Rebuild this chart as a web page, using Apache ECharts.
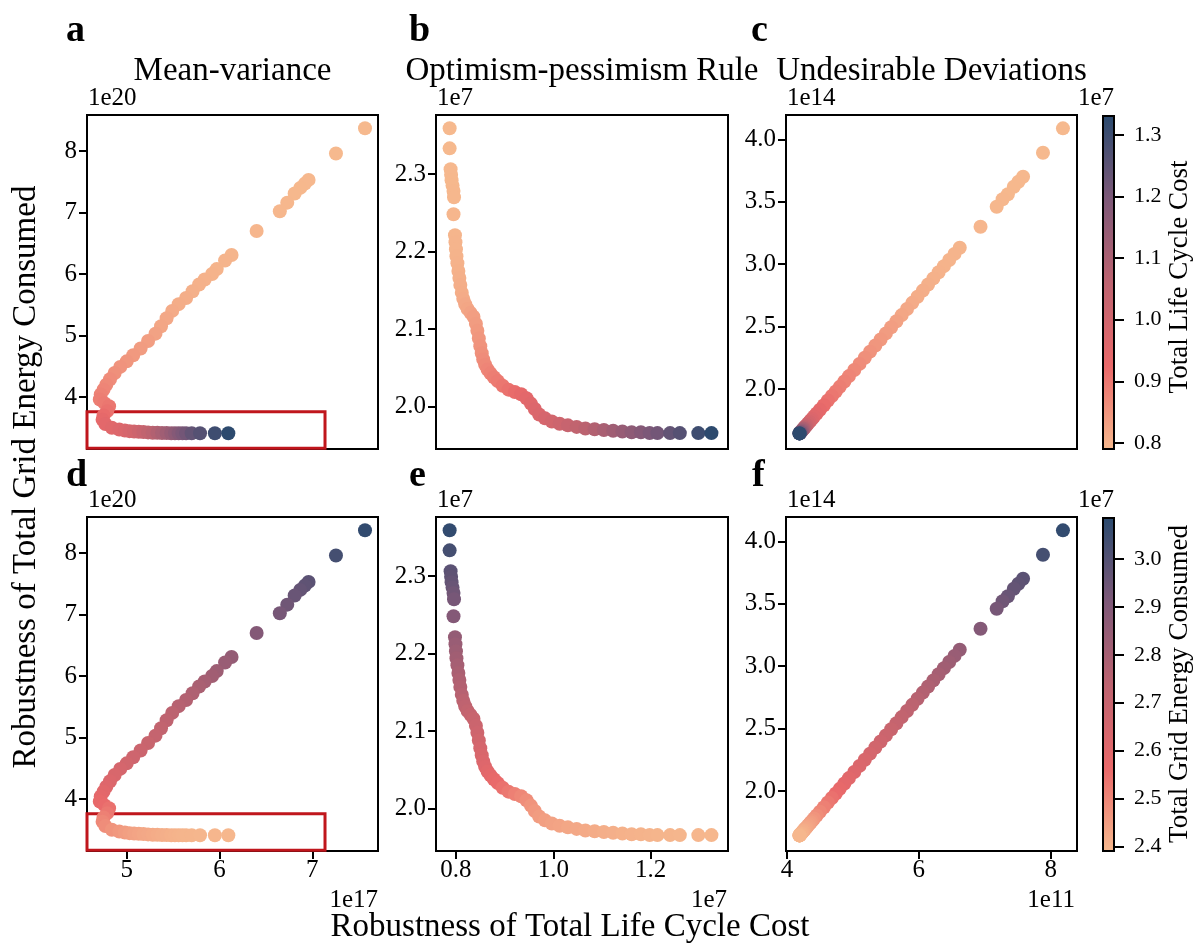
<!DOCTYPE html>
<html><head><meta charset="utf-8">
<script src="https://cdn.jsdelivr.net/npm/echarts@6/dist/echarts.min.js"></script>
<style>html,body{margin:0;padding:0;background:#fff}#chart{width:1198px;height:947px}</style>
</head><body><div id="chart"></div>
<script>
// ---- data ----
// Mean-variance robustness (panels a, d)
const mvX = [7.568,7.255,6.96,6.92,6.87,6.81,6.73,6.65,6.40, 6.13,6.06,5.97,5.92,5.84,5.78,5.71,5.64,5.56,5.49, 5.43,5.37,5.31,5.23,5.15,5.07,5.00,4.93,4.87,4.82, 4.78,4.75,4.72,4.71,4.76, 4.81,4.79,4.75,4.74,4.77,4.84, 4.92,4.98,5.03,5.08,5.13,5.18,5.23,5.28,5.33,5.38,5.43,5.48,5.52,5.56,5.60,5.64, 5.70,5.79,5.95,6.095];
const mvY = [8.37,7.96,7.53,7.47,7.40,7.31,7.16,7.02,6.70, 6.31,6.22,6.08,6.00,5.91,5.83,5.72,5.61,5.51,5.40, 5.28,5.15,5.03,4.91,4.79,4.68,4.58,4.49,4.39,4.29, 4.20,4.12,4.04,3.96,3.90, 3.85,3.77,3.70,3.63,3.56,3.50, 3.47,3.455,3.445,3.44,3.435,3.43,3.425,3.42,3.42,3.415,3.415,3.41,3.41,3.41,3.41,3.41, 3.41,3.41,3.41,3.41];
// Optimism-pessimism rule (panels b, e)
const opX = [0.787,0.787,0.789,0.790,0.791,0.793,0.795,0.796,0.795, 0.798,0.799,0.800,0.801,0.803,0.805,0.807,0.809,0.812,0.815, 0.819,0.824,0.830,0.836,0.841,0.844,0.847,0.850,0.853,0.856, 0.860,0.865,0.871,0.878,0.886, 0.896,0.908,0.921,0.934,0.945,0.954, 0.962,0.971,0.983,0.997,1.013,1.030,1.048,1.066,1.085,1.104,1.123,1.142,1.161,1.180,1.198,1.214, 1.240,1.260,1.298,1.325];
const opY = [2.359,2.333,2.306,2.299,2.292,2.285,2.278,2.270,2.248, 2.221,2.212,2.203,2.194,2.185,2.175,2.166,2.157,2.147,2.139, 2.132,2.126,2.121,2.116,2.107,2.098,2.088,2.078,2.069,2.061, 2.054,2.048,2.043,2.038,2.033, 2.027,2.022,2.019,2.016,2.011,2.004, 1.997,1.990,1.985,1.981,1.978,1.976,1.974,1.972,1.971,1.970,1.969,1.968,1.967,1.967,1.966,1.966, 1.966,1.966,1.966,1.966];
// Undesirable deviations (panels c, f)
const udX = [8.185,7.882,7.58,7.51,7.44,7.35,7.27,7.18,6.935, 6.62,6.54,6.46,6.38,6.30,6.22,6.14,6.06,5.98,5.90, 5.82,5.74,5.66,5.58,5.50,5.42,5.34,5.26,5.18,5.10, 5.02,4.94,4.87,4.80,4.74, 4.68,4.62,4.56,4.50,4.45,4.41, 4.38,4.36,4.34,4.32,4.30,4.285,4.27,4.26,4.25,4.24,4.23,4.22,4.21,4.205,4.20,4.195, 4.19,4.19,4.19,4.19];
const udY = [4.088,3.893,3.70,3.66,3.62,3.56,3.52,3.46,3.30, 3.131,3.082,3.033,2.984,2.935,2.886,2.837,2.788,2.739,2.690, 2.641,2.592,2.543,2.494,2.445,2.396,2.348,2.299,2.250,2.201, 2.152,2.103,2.060,2.017,1.980, 1.944,1.907,1.870,1.834,1.803,1.779, 1.760,1.748,1.736,1.724,1.711,1.702,1.693,1.687,1.681,1.675,1.668,1.662,1.656,1.653,1.650,1.647, 1.644,1.644,1.644,1.644];
// colour values (1e7)
const totalCost = [0.790,0.790,0.791,0.791,0.792,0.792,0.793,0.794,0.795, 0.797,0.798,0.799,0.800,0.802,0.804,0.806,0.808,0.811,0.814, 0.818,0.823,0.829,0.835,0.840,0.845,0.850,0.855,0.860,0.866, 0.872,0.878,0.884,0.890,0.895, 0.902,0.910,0.921,0.934,0.945,0.954, 0.962,0.971,0.983,0.997,1.013,1.030,1.048,1.066,1.085,1.104,1.123,1.142,1.161,1.180,1.198,1.214, 1.240,1.262,1.300,1.328];
const totalEnergy = [3.070,3.030,2.985,2.975,2.965,2.955,2.940,2.925,2.895, 2.850,2.838,2.826,2.814,2.802,2.790,2.778,2.766,2.754,2.742, 2.730,2.718,2.706,2.694,2.682,2.670,2.658,2.646,2.634,2.622, 2.610,2.598,2.586,2.574,2.562, 2.548,2.532,2.516,2.500,2.486,2.472, 2.462,2.454,2.447,2.441,2.436,2.431,2.427,2.423,2.419,2.415,2.412,2.409,2.406,2.404,2.402,2.400, 2.399,2.398,2.397,2.396];

// axis ranges and ticks
const mvXRange = [4.572, 7.708], mvYRange = [3.155, 8.585];
const opXRange = [0.759, 1.359], opYRange = [1.9455, 2.376];
const udXRange = [3.985, 8.398], udYRange = [1.519, 4.195];
const costRange = [0.79, 1.3325], energyRange = [2.391, 3.087];
const mvXTicks = [5, 6, 7], mvYTicks = [4, 5, 6, 7, 8];
const opXTicks = [0.8, 1.0, 1.2], opYTicks = [2.0, 2.1, 2.2, 2.3];
const udXTicks = [4, 6, 8], udYTicks = [2.0, 2.5, 3.0, 3.5, 4.0];
const costTicks = [0.8, 0.9, 1.0, 1.1, 1.2, 1.3];
const energyTicks = [2.4, 2.5, 2.6, 2.7, 2.8, 2.9, 3.0];
// highlighted region in panels a and d
const boxX = [4.558, 7.137], boxY = [3.166, 3.761];

const cmap = ['#f6b98e', '#e9696a', '#bd6370', '#7d5878', '#2a4a6e'];
const FONT = 'Liberation Serif';

const chart = echarts.init(document.getElementById('chart'), null, {renderer: 'canvas'});

const gridPos = [
  [87, 115, 291, 334], [436, 115, 292, 334], [786, 115, 291, 334],
  [87, 517, 291, 334], [436, 517, 292, 334], [786, 517, 291, 334],
  [1102, 115, 13, 334], [1102, 517, 13, 334]
];
const grids = gridPos.map((g, i) => ({
  left: g[0], top: g[1], width: g[2], height: g[3],
  containLabel: false, outerBoundsMode: 'none',
  show: i < 6, borderColor: '#000', borderWidth: 2, backgroundColor: 'transparent'
}));

function valAxis(gi, range, ticks, dec, showTicks, position, margin) {
  return {
    type: 'value', gridIndex: gi, min: range[0], max: range[1], position: position,
    axisLine: {show: false},
    splitLine: {show: false},
    axisTick: {show: showTicks, inside: false, length: 8, lineStyle: {color: '#000', width: 2}, customValues: ticks},
    axisLabel: {show: showTicks, customValues: ticks, margin: margin,
      formatter: v => dec ? Number(v).toFixed(dec) : String(Math.round(v)),
      fontFamily: FONT, fontSize: 25, color: '#000'}
  };
}

const xAxes = [
  valAxis(0, mvXRange, mvXTicks, 0, false, 'bottom', 6),
  valAxis(1, opXRange, opXTicks, 1, false, 'bottom', 6),
  valAxis(2, udXRange, udXTicks, 0, false, 'bottom', 6),
  valAxis(3, mvXRange, mvXTicks, 0, true, 'bottom', 7),
  valAxis(4, opXRange, opXTicks, 1, true, 'bottom', 7),
  valAxis(5, udXRange, udXTicks, 0, true, 'bottom', 7),
  {type: 'category', gridIndex: 6, data: ['cb'], show: false},
  {type: 'category', gridIndex: 7, data: ['cb'], show: false}
];
const cbAxis = (gi, range, ticks) => {
  const a = valAxis(gi, range, ticks, 1, true, 'right', 19);
  a.axisTick.length = 9;
  a.axisLabel.fontSize = 22;
  return a;
};
const yAxes = [
  valAxis(0, mvYRange, mvYTicks, 0, true, 'left', 10),
  valAxis(1, opYRange, opYTicks, 1, true, 'left', 10),
  valAxis(2, udYRange, udYTicks, 1, true, 'left', 10),
  valAxis(3, mvYRange, mvYTicks, 0, true, 'left', 10),
  valAxis(4, opYRange, opYTicks, 1, true, 'left', 10),
  valAxis(5, udYRange, udYTicks, 1, true, 'left', 10),
  cbAxis(6, costRange, costTicks),
  cbAxis(7, energyRange, energyTicks)
];

function pts(xs, ys, cs) { return xs.map((x, i) => [x, ys[i], cs[i]]); }
const box = {
  silent: true, label: {show: false},
  itemStyle: {color: 'rgba(0,0,0,0)', borderColor: '#c0161c', borderWidth: 3},
  data: [[{coord: [boxX[0], boxY[1]]}, {coord: [boxX[1], boxY[0]]}]]
};
function scat(gi, data, withBox) {
  const s = {type: 'scatter', xAxisIndex: gi, yAxisIndex: gi, data: data, symbol: 'circle', symbolSize: 14,
    clip: false, silent: true, itemStyle: {opacity: 1}};
  if (withBox) s.markArea = box;
  return s;
}
function grad() {
  return {type: 'linear', x: 0, y: 1, x2: 0, y2: 0,
    colorStops: cmap.map((c, i) => ({offset: i / (cmap.length - 1), color: c}))};
}

const series = [
  scat(0, pts(mvX, mvY, totalCost), true),
  scat(1, pts(opX, opY, totalCost), false),
  scat(2, pts(udX, udY, totalCost), false),
  scat(3, pts(mvX, mvY, totalEnergy), true),
  scat(4, pts(opX, opY, totalEnergy), false),
  scat(5, pts(udX, udY, totalEnergy), false),
  {type: 'bar', xAxisIndex: 6, yAxisIndex: 6, data: [costRange[1]], barWidth: '100%', silent: true,
   itemStyle: {color: grad(), borderColor: '#000', borderWidth: 2}},
  {type: 'bar', xAxisIndex: 7, yAxisIndex: 7, data: [energyRange[1]], barWidth: '100%', silent: true,
   itemStyle: {color: grad(), borderColor: '#000', borderWidth: 2}}
];

function txt(text, x, y, size, opt) {
  opt = opt || {};
  return {type: 'text', x: x, y: y, rotation: opt.rot || 0, silent: true,
    style: {text: text, font: (opt.bold ? 'bold ' : '') + size + 'px "' + FONT + '"', fill: '#000',
      align: opt.align || 'left', verticalAlign: 'middle'}};
}
const graphics = [
  txt('a', 66, 31, 38, {bold: true}), txt('b', 409, 31, 38, {bold: true}), txt('c', 751, 31, 38, {bold: true}),
  txt('d', 66, 476, 38, {bold: true}), txt('e', 409, 476, 38, {bold: true}), txt('f', 752, 476, 38, {bold: true}),
  txt('Mean-variance', 232.5, 71, 33, {align: 'center'}),
  txt('Optimism-pessimism Rule', 582, 71, 33, {align: 'center'}),
  txt('Undesirable Deviations', 931.5, 71, 33, {align: 'center'}),
  txt('1e20', 88, 98, 25), txt('1e7', 437, 98, 25), txt('1e14', 787, 98, 25), txt('1e7', 1114, 98, 25, {align: 'right'}),
  txt('1e20', 88, 500, 25), txt('1e7', 437, 500, 25), txt('1e14', 787, 500, 25), txt('1e7', 1114, 500, 25, {align: 'right'}),
  txt('1e17', 378, 900, 25, {align: 'right'}), txt('1e7', 727, 900, 25, {align: 'right'}), txt('1e11', 1075, 900, 25, {align: 'right'}),
  txt('Robustness of Total Life Cycle Cost', 570, 927, 33, {align: 'center'}),
  txt('Robustness of Total Grid Energy Consumed', 26, 477, 33, {align: 'center', rot: Math.PI / 2}),
  txt('Total Life Cycle Cost', 1180, 277, 27, {align: 'center', rot: Math.PI / 2}),
  txt('Total Grid Energy Consumed', 1180, 684, 27, {align: 'center', rot: Math.PI / 2})
];

chart.setOption({
  animation: false,
  backgroundColor: '#fff',
  grid: grids,
  xAxis: xAxes,
  yAxis: yAxes,
  visualMap: [
    {type: 'continuous', show: false, seriesIndex: [0, 1, 2], dimension: 2, min: costRange[0], max: costRange[1], inRange: {color: cmap}},
    {type: 'continuous', show: false, seriesIndex: [3, 4, 5], dimension: 2, min: energyRange[0], max: energyRange[1], inRange: {color: cmap}}
  ],
  series: series,
  graphic: {elements: graphics}
});
</script>
</body></html>
